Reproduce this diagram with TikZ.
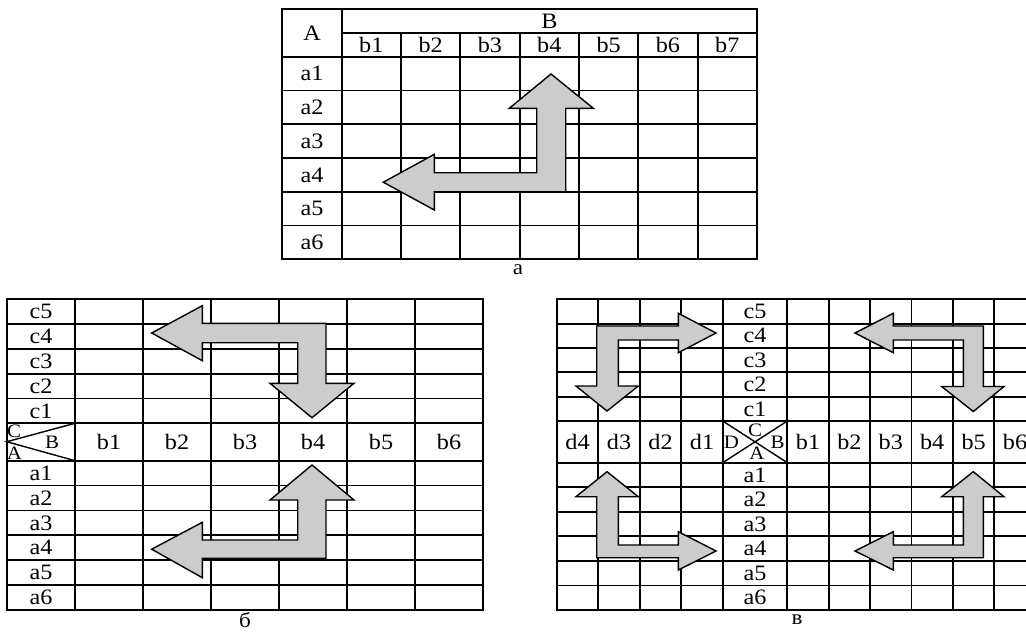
\documentclass[tikz,border=0pt]{standalone}
\usepackage{fontspec}
\setmainfont{Liberation Serif}[FakeStretch=1.1]
\usetikzlibrary{positioning}
\tikzset{
  grid/.style    = {line width=0.9pt},
  diag/.style    = {line width=0.7pt},
  elbow/.style   = {draw, fill=gray!40, line width=0.7pt, line join=miter},
  cell/.style    = {font=\fontsize{11}{12}\selectfont, inner sep=0pt},
  corner/.style  = {font=\fontsize{9.5}{10}\selectfont, inner sep=0pt},
  caption/.style = {font=\fontsize{10.5}{11}\selectfont, inner sep=0pt}
}

\begin{document}
\begin{tikzpicture}[x=0.5pt, y=-0.5pt]
  \useasboundingbox (0,0) rectangle (1026,631);
  \fill[white] (0,0) rectangle (1026,631);
  \clip (0,0) rectangle (1026,631);

  % Table a
  \draw[grid] (282,9.3) rectangle (757,259.3);
  \draw[grid] (341.7,9.3) -- (341.7,259.3);
  \draw[grid] (341.7,33.3) -- (757,33.3);
  \foreach \k in {0,...,5}
    \draw[grid] (282,{56.7+33.77*\k}) -- (757,{56.7+33.77*\k});
  \foreach \k in {1,...,6}
    \draw[grid] ({341.7+59.33*\k},33.3) -- ({341.7+59.33*\k},259.3);
  \draw[elbow] (551,74) -- (593.3,108.3) -- (565.7,108.3) -- (565.7,191.7)
    -- (434.3,191.7) -- (434.3,210) -- (383.3,182.2) -- (434.3,154.3)
    -- (434.3,172.7) -- (536.7,172.7) -- (536.7,108.3) -- (509.3,108.3) -- cycle;
  \node[cell] (aA) at (312,33) {A};
  \node[cell] (aB) at (549.4,21.3) {B};
  \foreach \k in {1,...,7}
    \node[cell] (ab\k) at ({312+59.33*\k},45) {b\k};
  \foreach \k in {1,...,6}
    \node[cell] (aa\k) at (312,{39.8+33.77*\k}) {a\k};
  \node[caption] (capa) at (518,270) {a};

  % Table b (two quadrants)
  \draw[grid] (6.7,299.3) rectangle (483,610);
  \foreach \k in {1,...,5}
    \draw[grid] (6.7,{299.3+24.8*\k}) -- (483,{299.3+24.8*\k});
  \foreach \k in {0,...,5}
    \draw[grid] (6.7,{460.7+24.88*\k}) -- (483,{460.7+24.88*\k});
  \foreach \k in {0,...,5}
    \draw[grid] ({75+68*\k},299.3) -- ({75+68*\k},610);
  \draw[diag] (75,423.3) -- (6.7,441.7) -- (75,460.7);
  \draw[elbow] (151.7,333) -- (202.3,305.7) -- (202.3,323.3) -- (326,323.3)
    -- (326,383.3) -- (354,383.3) -- (312,417.7) -- (270,383.3)
    -- (297.7,383.3) -- (297.7,342.7) -- (202.3,342.7) -- (202.3,360.7) -- cycle;
  \draw[elbow] (312,465) -- (354,500) -- (326,500) -- (326,558.3)
    -- (202.3,558.3) -- (202.3,577.7) -- (151.7,549.2) -- (202.3,522.3)
    -- (202.3,540) -- (297.7,540) -- (297.7,500) -- (270,500) -- cycle;
  \foreach \k in {1,...,5}
    \node[cell] (bc\k) at (41,{435.7-24.8*\k}) {c\k};
  \foreach \k in {1,...,6}
    \node[cell] (ba\k) at (41,{448.3+24.88*\k}) {a\k};
  \foreach \k in {1,...,6}
    \node[cell] (bb\k) at ({41+68*\k},442) {b\k};
  \node[corner] (bC) at (14,431) {C};
  \node[corner] (bB) at (52,442) {B};
  \node[corner] (bA) at (14.5,453) {A};
  \node[caption] (capb) at (245,620) {б};

  % Table v (four quadrants)
  \draw[grid] (556.7,299.3) rectangle (1035.7,610);
  \foreach \k in {1,...,5}
    \draw[grid] (556.7,{299.3+24.34*\k}) -- (1035.7,{299.3+24.34*\k});
  \foreach \k in {0,...,5}
    \draw[grid] (556.7,{462.7+24.55*\k}) -- (1035.7,{462.7+24.55*\k});
  \foreach \k in {1,...,4}
    \draw[grid] ({556.7+41.5*\k},299.3) -- ({556.7+41.5*\k},610);
  \foreach \k in {0,...,5}
    \draw[grid] ({787.3+41.4*\k},299.3) -- ({787.3+41.4*\k},610);
  \draw[diag] (722.7,421) -- (787.3,462.7);
  \draw[diag] (722.7,462.7) -- (787.3,421);
  \draw[elbow] (716,333) -- (678.3,313.3) -- (678.3,326) -- (596.7,326)
    -- (596.7,386) -- (576,386) -- (607,411) -- (638.3,386)
    -- (618.3,386) -- (618.3,340) -- (678.3,340) -- (678.3,352.7) -- cycle;
  \draw[elbow] (855,333) -- (893.3,313.3) -- (893.3,326) -- (983.3,326)
    -- (983.3,386.5) -- (1004,386.5) -- (973.3,411.5) -- (941.7,386.5)
    -- (963.3,386.5) -- (963.3,340) -- (893.3,340) -- (893.3,352.7) -- cycle;
  \draw[elbow] (607,471.7) -- (638.3,496.7) -- (618.3,496.7) -- (618.3,545)
    -- (678.3,545) -- (678.3,531.7) -- (716,551) -- (678.3,570)
    -- (678.3,557.7) -- (596.7,557.7) -- (596.7,496.7) -- (576,496.7) -- cycle;
  \draw[elbow] (973.3,471.7) -- (1004,496.7) -- (983.3,496.7) -- (983.3,557.7)
    -- (893.3,557.7) -- (893.3,570) -- (855,551) -- (893.3,531.7)
    -- (893.3,545) -- (963.3,545) -- (963.3,496.7) -- (941.7,496.7) -- cycle;
  \foreach \k in {1,...,5}
    \node[cell] (vc\k) at (755,{433.2-24.34*\k}) {c\k};
  \foreach \k in {1,...,6}
    \node[cell] (va\k) at (755,{450.4+24.55*\k}) {a\k};
  \foreach \k in {1,...,4}
    \node[cell] (vd\k) at ({743.5-41.5*\k},441.9) {d\k};
  \foreach \k in {1,...,6}
    \node[cell] (vb\k) at ({766.6+41.4*\k},441.9) {b\k};
  \node[corner] (vC) at (755,430.7) {C};
  \node[corner] (vD) at (731.5,442.3) {D};
  \node[corner] (vB) at (777.5,442.3) {B};
  \node[corner] (vA) at (757,453) {A};
  \node[caption] (capv) at (797,620) {в};
\end{tikzpicture}
\end{document}
